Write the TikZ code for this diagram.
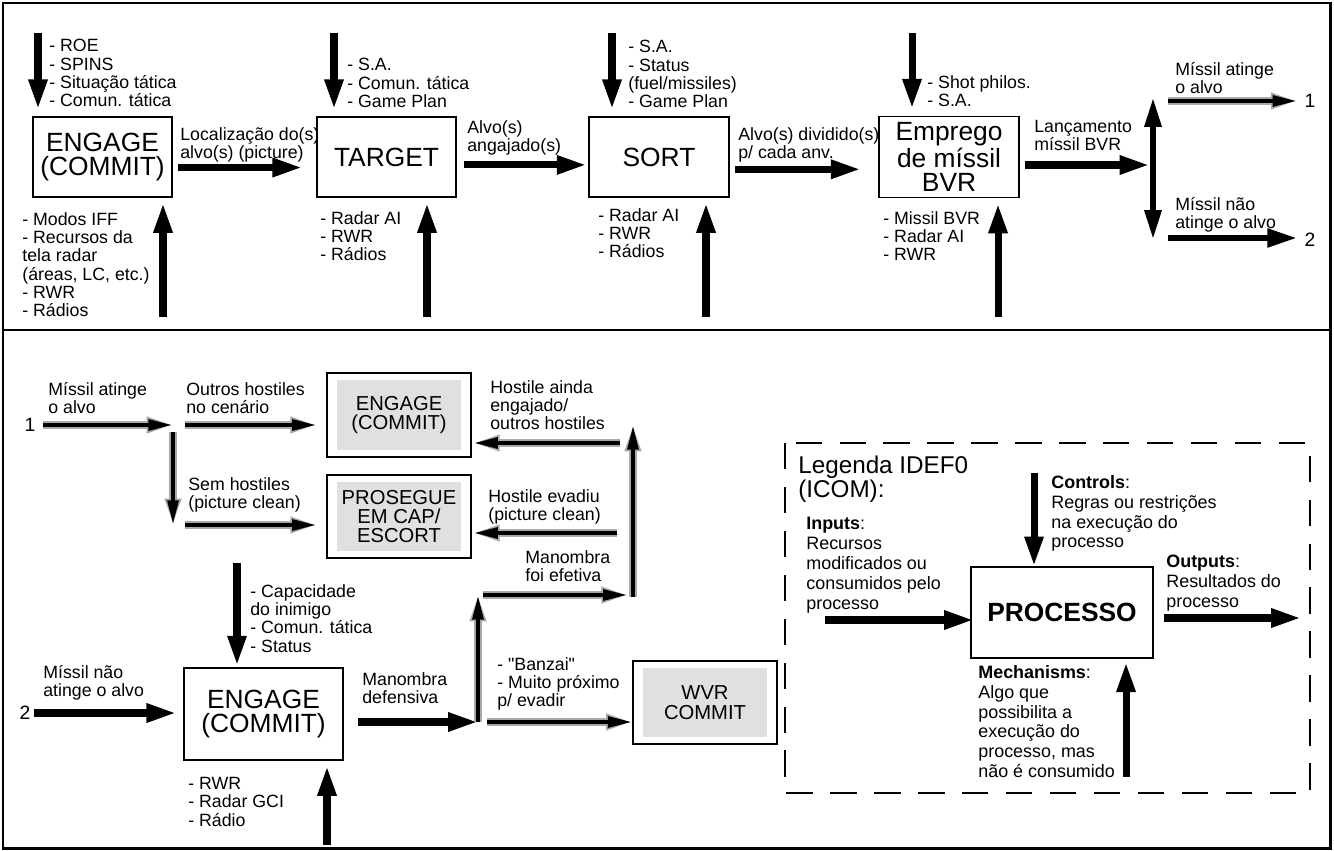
\documentclass[tikz,border=0pt]{standalone}
\usepackage{fontspec}
\setmainfont{Liberation Sans}[Ligatures=TeXOff]
\usetikzlibrary{arrows.meta}
\definecolor{boxgray}{HTML}{E0E0E0}
\definecolor{halogray}{HTML}{A8A8A8}
\def\pxu{0.02cm}
\tikzset{
  bloco/.style={draw, line width=0.7pt, minimum width=139*\pxu, minimum height=80*\pxu, align=center, font=\fontsize{15}{14}\selectfont},
  cinza/.style={draw, line width=0.7pt, minimum width=144*\pxu, minimum height=84*\pxu, align=center, font=\fontsize{11.5}{11}\selectfont,
    path picture={\fill[boxgray] ([shift={(10*\pxu,7*\pxu)}]path picture bounding box.south west) rectangle ([shift={(-10*\pxu,-7*\pxu)}]path picture bounding box.north east);}},
  rotulo/.style={anchor=north west, inner sep=0pt, align=left, font=\fontsize{10.1}{10.4}\selectfont},
  legtexto/.style={rotulo, font=\fontsize{10.2}{11.3}\selectfont},
  numero/.style={font=\fontsize{11}{11}\selectfont, inner sep=2pt},
  seta/.style={line width=4pt, -{Triangle[length=17pt,width=10pt]}},
  setadupla/.style={line width=3.6pt, {Triangle[length=17pt,width=9pt]}-{Triangle[length=17pt,width=9pt]}},
  setinha/.style={line width=2.4pt, -{Triangle[length=14pt,width=6pt]},
    preaction={draw=halogray, line width=4.4pt, -{Triangle[length=15pt,width=8.5pt]}}},
}
\begin{document}
\begin{tikzpicture}[x=0.02cm,y=-0.02cm]
\useasboundingbox (0,0) rectangle (1334,851);
\draw[line width=1.7pt] (3,3) rectangle (1330,848);
\draw[line width=1.7pt] (3,330) -- (1330,330);

\node[bloco] (engage) at (102.5,157) {ENGAGE\\(COMMIT)};
\node[bloco] (target) at (386.5,157) {TARGET};
\node[bloco, minimum width=140*\pxu] (sort) at (659,157) {SORT};
\node[bloco, minimum width=140*\pxu] (bvr) at (949,157) {Emprego\\de míssil\\BVR};

\foreach \nome/\xpos in {engage/38,target/334,sort/612,bvr/912}{
  \coordinate (ctrl-\nome) at (\xpos,33);
  \draw[seta, shorten >=4pt] (ctrl-\nome) -- (ctrl-\nome |- \nome.north);
}
\foreach \nome/\xpos in {engage/163,target/427,sort/706,bvr/998}{
  \coordinate (mec-\nome) at (\xpos,317);
  \draw[seta, shorten >=3pt] (mec-\nome) -- (mec-\nome |- \nome.south);
}

\node[rotulo] (ctrlA) at (49,39) {- ROE\\- SPINS\\- Situação tática\\- Comun. tática};
\node[rotulo] (mecA) at (22,212) {- Modos IFF\\- Recursos da\\tela radar\\(áreas, LC, etc.)\\- RWR\\- Rádios};
\node[rotulo] (ctrlT) at (347,58) {- S.A.\\- Comun. tática\\- Game Plan};
\node[rotulo] (mecT) at (320,211) {- Radar AI\\- RWR\\- Rádios};
\node[rotulo] (ctrlS) at (628,40) {- S.A.\\- Status\\(fuel/missiles)\\- Game Plan};
\node[rotulo] (mecS) at (598,208) {- Radar AI\\- RWR\\- Rádios};
\node[rotulo] (ctrlB) at (927,75) {- Shot philos.\\- S.A.};
\node[rotulo] (mecB) at (883,211) {- Missil BVR\\- Radar AI\\- RWR};

\draw[seta, shorten <=3pt, shorten >=8pt] ([yshift=-6pt]engage.east) -- ([yshift=-6pt]target.west);
\draw[seta, shorten <=4pt, shorten >=1pt] ([yshift=-4.5pt]target.east) -- ([yshift=-4.5pt]sort.west);
\draw[seta, shorten <=3pt, shorten >=10pt] ([yshift=-7pt]sort.east) -- ([yshift=-7pt]bvr.west);
\coordinate (nodo) at (1153,165);
\draw[seta, shorten <=3pt, shorten >=2pt] (bvr.east |- nodo) -- (nodo);
\node[rotulo] (lblAB) at (180,127) {Localização do(s)\\alvo(s) (picture)};
\node[rotulo] (lblTS) at (467,120) {Alvo(s)\\angajado(s)};
\node[rotulo] (lblSB) at (738,127) {Alvo(s) dividido(s)\\p/ cada anv.};
\node[rotulo] (lblBO) at (1034,120) {Lançamento\\míssil BVR};

\coordinate (sim) at (1153,97);
\coordinate (nao) at (1153,240);
\draw[setadupla] (sim) -- (nao);
\node[numero] (um) at (1310,101) {1};
\node[numero] (dois) at (1310,240) {2};
\coordinate (sim-ini) at (1168,101);
\coordinate (nao-ini) at (1168,238);
\draw[setinha, shorten >=2pt] (sim-ini) -- (sim-ini -| um.west);
\draw[seta, line width=3.6pt, shorten >=2pt] (nao-ini) -- (nao-ini -| dois.west);
\node[rotulo] (lblHit) at (1175,62) {Míssil atinge\\o alvo};
\node[rotulo] (lblMiss) at (1175,197) {Míssil não\\atinge o alvo};

\node[cinza] (engage2) at (399,415) {ENGAGE\\(COMMIT)};
\node[cinza, minimum height=83*\pxu] (capesc) at (399,516.5) {PROSEGUE\\EM CAP/\\ESCORT};
\node[bloco, minimum width=159*\pxu, minimum height=92*\pxu] (engage3) at (263.5,714) {ENGAGE\\(COMMIT)};
\node[cinza, minimum height=83*\pxu] (wvr) at (705,702.5) {WVR\\COMMIT};

\node[numero] (um2) at (30,425) {1};
\coordinate (ramo) at (173,425);
\coordinate (ramo2) at (173,525);
\draw[setinha, shorten <=2pt] (um2) -- (ramo);
\draw[setinha, shorten <=7pt, shorten >=5.5pt] (ramo) -- (ramo -| engage2.west);
\draw[setinha, shorten <=4pt] (ramo) -- (ramo2);
\draw[setinha, shorten <=7pt, shorten >=5.5pt] (ramo2) -- (ramo2 -| capesc.west);
\node[rotulo] (lblHit2) at (48,382) {Míssil atinge\\o alvo};
\node[rotulo] (lblOutros) at (186,382) {Outros hostiles\\no cenário};
\node[rotulo] (lblSem) at (188,477) {Sem hostiles\\(picture clean)};

\coordinate (sobe) at (633,597);
\coordinate (topo) at (633,425);
\draw[setinha] (sobe) -- (topo);
\coordinate (volta1) at (620,443);
\coordinate (volta2) at (617,533);
\draw[setinha, shorten >=1pt] (volta1) -- (volta1 -| engage2.east);
\draw[setinha, shorten >=1pt] (volta2) -- (volta2 -| capesc.east);
\node[rotulo] (lblAinda) at (490,380) {Hostile ainda\\engajado/\\outros hostiles};
\node[rotulo] (lblEvadiu) at (488,489) {Hostile evadiu\\(picture clean)};

\coordinate (defl) at (478,722);
\coordinate (efet) at (478,595);
\draw[seta, shorten <=8pt] (engage3.east |- defl) -- (defl);
\draw[setinha] (defl) -- (efet);
\draw[setinha, shorten <=3pt, shorten >=3pt] (efet) -- (efet -| sobe);
\draw[setinha, shorten <=5pt] (defl) -- (defl -| wvr.west);
\node[rotulo] (lblEfet) at (525,550) {Manombra\\foi efetiva};
\node[rotulo] (lblDef) at (362,672) {Manombra\\defensiva};
\node[rotulo] (lblBanzai) at (497,657) {- "Banzai"\\- Muito próximo\\p/ evadir};

\node[numero] (dois2) at (25,713) {2};
\draw[seta, shorten >=4pt] (dois2) -- (dois2 -| engage3.west);
\node[rotulo] (lblMiss2) at (43,665) {Míssil não\\atinge o alvo};
\coordinate (ctrl-engage3) at (237,563);
\draw[seta, shorten >=1pt] (ctrl-engage3) -- (ctrl-engage3 |- engage3.north);
\coordinate (mec-engage3) at (327,845);
\draw[seta, shorten >=3pt] (mec-engage3) -- (mec-engage3 |- engage3.south);
\node[rotulo] (ctrlC) at (250,584) {- Capacidade\\do inimigo\\- Comun. tática\\- Status};
\node[rotulo] (mecC) at (188,777) {- RWR\\- Radar GCI\\- Rádio};

\draw[line width=1.6pt, dash pattern=on 15pt off 10pt] (785,443) rectangle (1310,793);
\node[bloco, font=\fontsize{15}{15}\selectfont\bfseries, minimum width=182*\pxu, minimum height=91*\pxu] (proc) at (1062,612.5) {PROCESSO};
\coordinate (leg-ctrl) at (1034,473);
\coordinate (leg-in) at (825,620);
\coordinate (leg-out) at (1301,618);
\coordinate (leg-mec) at (1126,777);
\draw[seta] (leg-ctrl) -- (leg-ctrl |- proc.north);
\draw[seta, shorten >=-2pt] (leg-in) -- (leg-in -| proc.west);
\draw[seta, shorten <=6pt] (proc.east |- leg-out) -- (leg-out);
\draw[seta, shorten >=2pt] (leg-mec) -- (leg-mec |- proc.south);
\node[rotulo, font=\fontsize{13.8}{13.6}\selectfont] (lblLeg) at (798,455.5) {Legenda IDEF0\\(ICOM):};
\node[legtexto] (lblCtrl) at (1051,475) {\textbf{Controls}:\\Regras ou restrições\\na execução do\\processo};
\node[legtexto] (lblIn) at (806,517) {\textbf{Inputs}:\\Recursos\\modificados ou\\consumidos pelo\\processo};
\node[legtexto] (lblOut) at (1166,555) {\textbf{Outputs}:\\Resultados do\\processo};
\node[legtexto] (lblMec) at (978,665) {\textbf{Mechanisms}:\\Algo que\\possibilita a\\execução do\\processo, mas\\não é consumido};
\end{tikzpicture}
\end{document}
